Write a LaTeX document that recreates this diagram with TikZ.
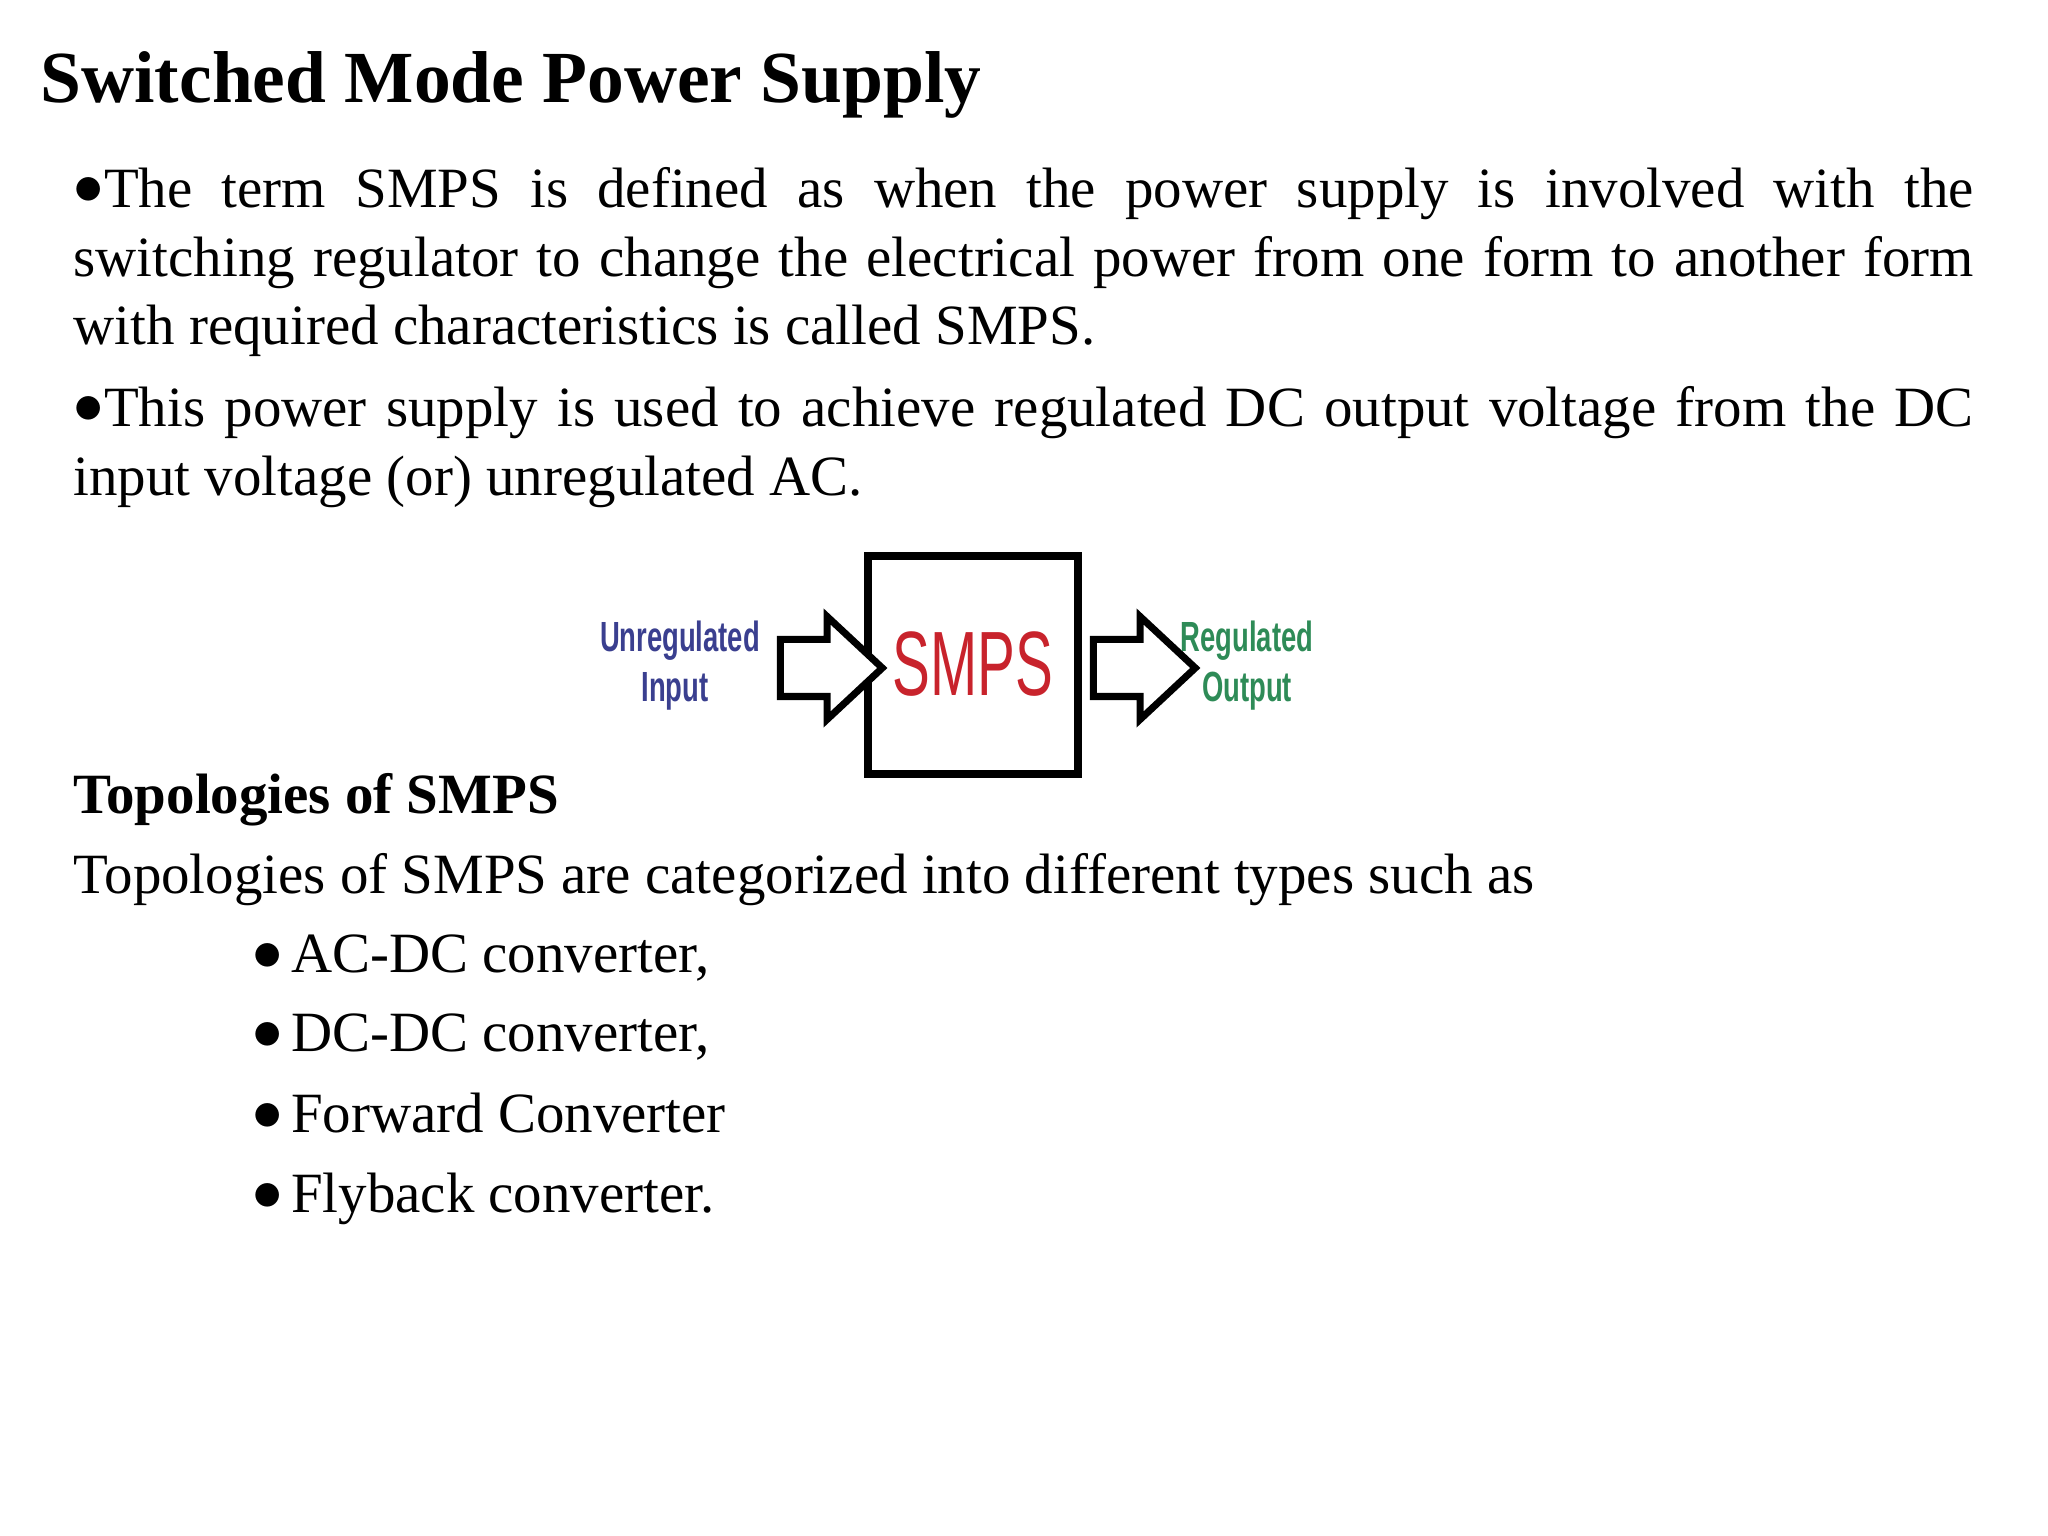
\documentclass[tikz,border=0pt]{standalone}
\usepackage{fontspec}
\setmainfont{Liberation Serif}
\newfontfamily\labelfont{Liberation Sans}
\usepackage{graphicx}
\usetikzlibrary{shapes.arrows}
\definecolor{InBlue}{HTML}{3A3F8F}
\definecolor{OutGreen}{HTML}{2E8B57}
\definecolor{SmpsRed}{HTML}{C8232C}
\newcommand{\mybul}{\raisebox{0.05em}{$\bullet$}}
\begin{document}
\begin{tikzpicture}[
  body/.style={anchor=base west, inner sep=0pt, font=\fontsize{16.2}{19.5}\selectfont},
  para/.style={anchor=north west, inner sep=0pt, text width=19.0cm, align=justify,
    font=\fontsize{16.2}{19.5}\selectfont},
  blockarrow/.style={single arrow, draw=black, line width=2pt, fill=white,
    minimum height=1.02cm, single arrow head extend=0.23cm,
    single arrow tip angle=86, inner sep=0pt},
  lbl/.style={font=\labelfont\bfseries\fontsize{12}{13}\selectfont, inner sep=0pt}
]
\useasboundingbox (0,0) rectangle (20.48,15.36);

% Title
\node[anchor=base west, inner sep=0pt, font=\bfseries\fontsize{20.9}{24}\selectfont]
  (title) at (0.40,14.33) {Switched Mode Power Supply};

% Paragraphs
\node[para] (p1) at (0.73,13.69)
  {\mybul The term SMPS is defined as when the power supply is involved with the\linebreak switching regulator to change the electrical power from one form to another form\linebreak with required characteristics is called SMPS.};
\node[para] (p2) at (0.73,11.50)
  {\mybul This power supply is used to achieve regulated DC output voltage from the DC\linebreak input voltage (or) unregulated AC.};

% Block diagram
\draw[line width=2.4pt] (8.68,7.62) rectangle (10.78,9.80);
\node[inner sep=0pt, text=SmpsRed, font=\labelfont\fontsize{26}{28}\selectfont] (smps)
  at (9.73,8.72) {\scalebox{0.62}[1]{SMPS}};
\node[blockarrow] (ain) at (8.16,8.68) {\rule{0pt}{0.5cm}};
\node[blockarrow] (aout) at (11.29,8.68) {\rule{0pt}{0.5cm}};
\node[lbl, text=InBlue] (unreg) at (6.80,8.95) {\scalebox{0.65}[1]{Unregulated}};
\node[lbl, text=InBlue] (inp) at (6.75,8.45) {\scalebox{0.65}[1]{Input}};
\node[lbl, text=OutGreen] (reg) at (12.47,8.95) {\scalebox{0.65}[1]{Regulated}};
\node[lbl, text=OutGreen] (outp) at (12.47,8.45) {\scalebox{0.65}[1]{Output}};

% Topologies
\node[body, font=\bfseries\fontsize{16.2}{19.5}\selectfont] (topo) at (0.73,7.22) {Topologies of SMPS};
\node[body] (intro) at (0.73,6.42) {Topologies of SMPS are categorized into different types such as};
\foreach \y/\t [count=\i] in {5.63/{AC-DC converter,}, 4.84/{DC-DC converter,}, 4.03/{Forward Converter}, 3.23/{Flyback converter.}}{
  \node[body] (b\i) at (2.52,\y) {\mybul\hspace{0.08cm}\t};
}
\end{tikzpicture}
\end{document}
